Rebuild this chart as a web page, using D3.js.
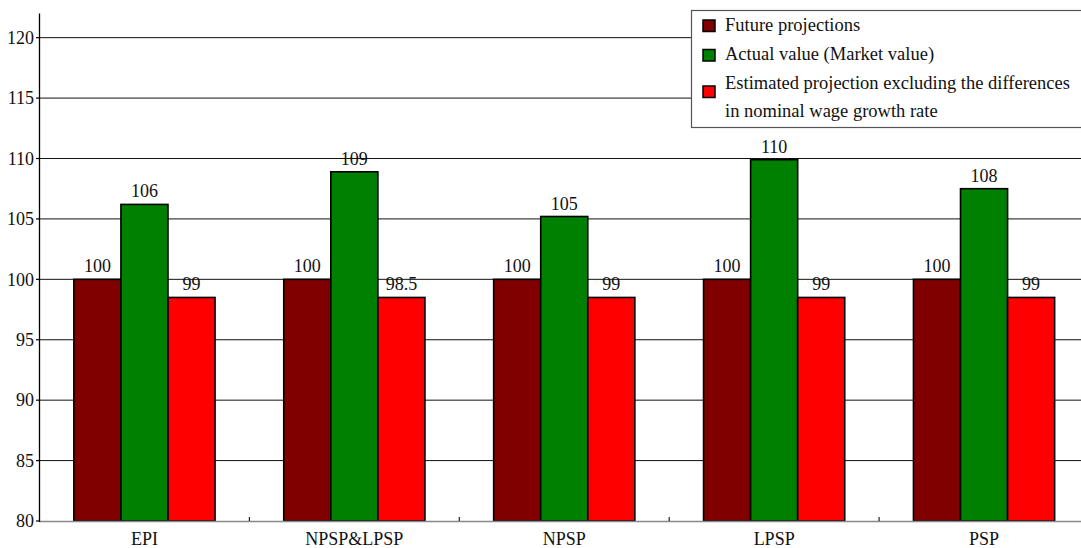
<!DOCTYPE html>
<html><head><meta charset="utf-8">
<script src="https://cdn.jsdelivr.net/npm/d3@7"></script>
<style>html,body{margin:0;padding:0;background:#fff;overflow:hidden}</style>
</head><body>
<svg id="chart" width="1081" height="548"></svg>
<script>
const categories = ["EPI", "NPSP&LPSP", "NPSP", "LPSP", "PSP"];
const seriesNames = ["Future projections", "Actual value (Market value)", "Estimated projection excluding the differences in nominal wage growth rate"];
const legendLines = [["Future projections"], ["Actual value (Market value)"], ["Estimated projection excluding the differences", "in nominal wage growth rate"]];
const seriesColors = ["#800000", "#008000", "#ff0000"];
const futureValues = [100, 100, 100, 100, 100];
const actualValues = [106.2, 108.9, 105.2, 109.9, 107.5];
const estimatedValues = [98.5, 98.5, 98.5, 98.5, 98.5];
const futureLabels = ["100", "100", "100", "100", "100"];
const actualLabels = ["106", "109", "105", "110", "108"];
const estimatedLabels = ["99", "98.5", "99", "99", "99"];
const yTicks = [80, 85, 90, 95, 100, 105, 110, 115, 120];

const seriesValues = [futureValues, actualValues, estimatedValues];
const seriesLabels = [futureLabels, actualLabels, estimatedLabels];
const FONT = '"Liberation Serif"';

const svg = d3.select("#chart");
const x0 = d3.scaleBand().domain(categories).range([39.5, 1089]).paddingInner(0).paddingOuter(0);
const x1 = d3.scaleBand().domain(d3.range(3)).range([0, x0.bandwidth()]).paddingInner(0).paddingOuter(0.73);
const y = d3.scaleLinear().domain([80, 122]).range([521, 13.5]);

// gridlines
svg.append("g").selectAll("line").data(yTicks.filter(t => t > 80)).join("line")
  .attr("x1", 39.5).attr("x2", 1081).attr("y1", d => y(d)).attr("y2", d => y(d))
  .attr("stroke", "#111").attr("stroke-width", 1);

// bars
const groups = svg.append("g").selectAll("g").data(categories).join("g")
  .attr("transform", d => `translate(${x0(d)},0)`);
const cells = (c, ci) => d3.range(3).map(s => ({s, v: seriesValues[s][ci], l: seriesLabels[s][ci]}));
groups.selectAll("rect").data(cells).join("rect")
  .attr("x", d => x1(d.s)).attr("width", x1.bandwidth())
  .attr("y", d => y(d.v)).attr("height", d => y(80) - y(d.v))
  .attr("fill", d => seriesColors[d.s]).attr("stroke", "#000").attr("stroke-width", 1.6);
groups.selectAll("text").data(cells).join("text")
  .attr("x", d => x1(d.s) + x1.bandwidth() / 2).attr("y", d => y(d.v) - 7)
  .attr("text-anchor", "middle").style("font-family", FONT).style("font-size", "18px")
  .attr("fill", "#111").text(d => d.l);

// x axis
svg.append("line").attr("x1", 39.5).attr("x2", 1081).attr("y1", y(80) + 0.5).attr("y2", y(80) + 0.5)
  .attr("stroke", "#888").attr("stroke-width", 1.6);
svg.append("g").selectAll("line").data(categories.slice(1)).join("line")
  .attr("x1", d => x0(d)).attr("x2", d => x0(d)).attr("y1", y(80) - 4).attr("y2", y(80))
  .attr("stroke", "#222").attr("stroke-width", 1.2);
svg.append("g").selectAll("text").data(categories).join("text")
  .attr("x", d => x0(d) + x0.bandwidth() / 2).attr("y", 545)
  .attr("text-anchor", "middle").style("font-family", FONT).style("font-size", "18px")
  .attr("fill", "#111").text(d => d);

// y axis
svg.append("line").attr("x1", 39.5).attr("x2", 39.5).attr("y1", y(122)).attr("y2", y(80) + 1)
  .attr("stroke", "#000").attr("stroke-width", 1.3);
svg.append("g").selectAll("line").data(yTicks).join("line")
  .attr("x1", 36).attr("x2", 39.5).attr("y1", d => y(d)).attr("y2", d => y(d))
  .attr("stroke", "#000").attr("stroke-width", 1.2);
svg.append("g").selectAll("text").data(yTicks).join("text")
  .attr("x", 34).attr("y", d => y(d)).attr("dy", "0.35em")
  .attr("text-anchor", "end").style("font-family", FONT).style("font-size", "18px")
  .attr("fill", "#111").text(d => d);

// legend
const lg = svg.append("g");
lg.append("rect").attr("x", 691.5).attr("y", 10.5).attr("width", 400).attr("height", 117)
  .attr("fill", "#fff").attr("stroke", "#555").attr("stroke-width", 1.2);
const sqY = [20, 49.5, 86];
const textY = [[31], [60], [88.5, 117]];
seriesNames.forEach((n, i) => {
  lg.append("rect").attr("x", 703).attr("y", sqY[i]).attr("width", 12).attr("height", 11.5)
    .attr("fill", seriesColors[i]).attr("stroke", "#000").attr("stroke-width", 1.5);
  legendLines[i].forEach((t, j) => {
    lg.append("text").attr("x", 725).attr("y", textY[i][j]).style("font-family", FONT)
      .style("font-size", "18.5px").attr("fill", "#111").text(t);
  });
});
</script>
</body></html>
